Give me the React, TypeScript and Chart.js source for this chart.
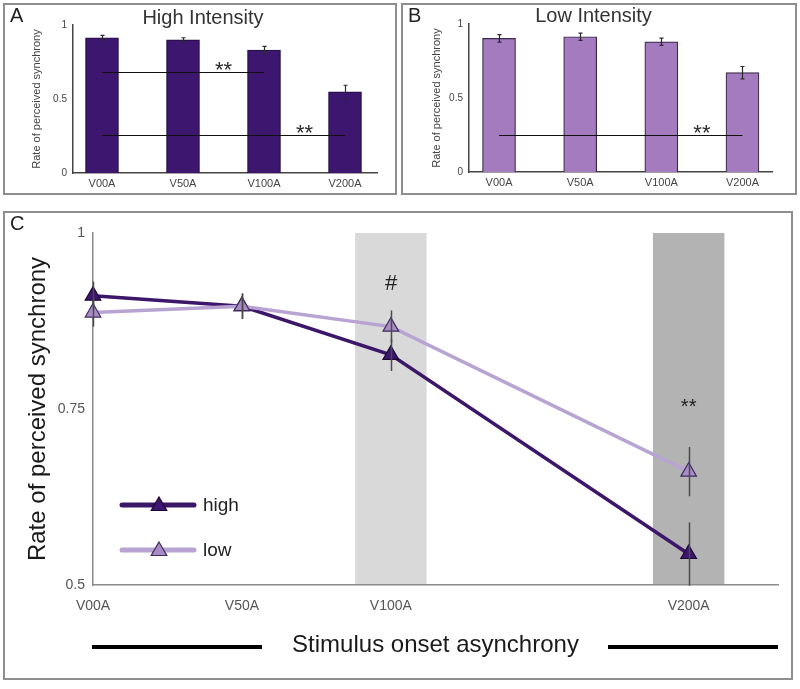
import React, { useEffect, useRef } from "react";
import { Chart, registerables } from "chart.js";

Chart.register(...registerables);

const FONT = "'Liberation Sans', Arial, Helvetica, sans-serif";
Chart.defaults.font.family = FONT;

// ---------------- data: bar panels ----------------
const barCategories = ["V00A", "V50A", "V100A", "V200A"];
const highBarValues = [0.914, 0.899, 0.831, 0.548];
const highBarErrors = [0.016, 0.015, 0.025, 0.045];
const lowBarValues = [0.903, 0.914, 0.88, 0.671];
const lowBarErrors = [0.025, 0.025, 0.025, 0.042];
const barYTicks = [0, 0.5, 1];
const barYTickLabels = ["0", "0.5", "1"];

const highSigFrom = [0, 0];
const highSigTo = [2, 3];
const highSigLevel = [0.68, 0.257];
const highSigStarAt = [1.5, 2.5];
const highSigText = ["**", "**"];

const lowSigFrom = [0];
const lowSigTo = [3];
const lowSigLevel = [0.25];
const lowSigStarAt = [2.5];
const lowSigText = ["**"];

// ---------------- data: line panel ----------------
const lineCategories = ["V00A", "V50A", "V100A", "V200A"];
const asynchronyMs = [0, 50, 100, 200];
const highLineValues = [0.911, 0.896, 0.827, 0.544];
const highLineErrors = [0.02, 0.018, 0.023, 0.045];
const lowLineValues = [0.887, 0.896, 0.867, 0.661];
const lowLineErrors = [0.02, 0.018, 0.023, 0.035];
const lineYTicks = [0.5, 0.75, 1];
const lineYTickLabels = ["0.5", "0.75", "1"];
const bandFrom = [88, 188];
const bandTo = [112, 212];
const bandMarks = ["#", "**"];
const bandMarkLevel = [0.93, 0.761];
const seriesNames = ["high", "low"];

// ---------------- styles ----------------
const HIGH = "#3d1670";
const LOW_BAR = "#a57bbf";
const HIGH_LINE = "#3c1769";
const LOW_LINE = "#b8a3d3";
const LOW_POINT = "#a88cc6";
const BAND_COLORS = ["#d9d9d9", "#b3b3b3"];

function drawTriangle(ctx: CanvasRenderingContext2D, x: number, y: number, r: number, fill: string, stroke: string) {
  ctx.beginPath();
  for (let k = 0; k < 3; k++) {
    const a = (k * 2 * Math.PI) / 3;
    const px = x + Math.sin(a) * r;
    const py = y - Math.cos(a) * r;
    if (k === 0) ctx.moveTo(px, py);
    else ctx.lineTo(px, py);
  }
  ctx.closePath();
  ctx.fillStyle = fill;
  ctx.fill();
  ctx.lineWidth = 1.2;
  ctx.strokeStyle = stroke;
  ctx.stroke();
}

type BarParams = {
  values: number[];
  errors: number[];
  fill: string;
  edge: string;
  title: string;
  letter: string;
  sigFrom: number[];
  sigTo: number[];
  sigLevel: number[];
  sigStarAt: number[];
  sigText: string[];
  xMin: number;
  xMax: number;
  padLeft: number;
  padRight: number;
  yWidth: number;
  yTitlePad: number;
  titlePadTop: number;
  titlePadBottom: number;
  xHeight: number;
};

function makeBarConfig(p: BarParams): any {
  const annot = {
    id: "annot" + p.letter,
    afterDatasetsDraw(chart: any) {
      const { ctx } = chart;
      const x = chart.scales.x;
      const y = chart.scales.y;
      ctx.save();
      // error bars
      ctx.strokeStyle = "#2a2a2a";
      ctx.lineWidth = 1.2;
      p.values.forEach((v, i) => {
        const px = Math.round(x.getPixelForValue(i)) + 0.5;
        const t = y.getPixelForValue(v + p.errors[i]);
        const b = y.getPixelForValue(v - p.errors[i]);
        ctx.beginPath();
        ctx.moveTo(px, t);
        ctx.lineTo(px, b);
        ctx.moveTo(px - 2, t);
        ctx.lineTo(px + 2, t);
        ctx.moveTo(px - 2, b);
        ctx.lineTo(px + 2, b);
        ctx.stroke();
      });
      // significance lines
      p.sigFrom.forEach((f, k) => {
        const py = Math.round(y.getPixelForValue(p.sigLevel[k])) + 0.5;
        ctx.strokeStyle = "#111";
        ctx.lineWidth = 1.2;
        ctx.beginPath();
        ctx.moveTo(x.getPixelForValue(f), py);
        ctx.lineTo(x.getPixelForValue(p.sigTo[k]), py);
        ctx.stroke();
        ctx.font = `22px ${FONT}`;
        ctx.fillStyle = "#2a2a2a";
        ctx.textAlign = "center";
        ctx.textBaseline = "alphabetic";
        ctx.fillText(p.sigText[k], x.getPixelForValue(p.sigStarAt[k]), py - 9 + 13);
      });
      // panel letter
      ctx.font = `20px ${FONT}`;
      ctx.fillStyle = "#222";
      ctx.textAlign = "left";
      ctx.textBaseline = "alphabetic";
      ctx.fillText(p.letter, 7, 19);
      ctx.restore();
    },
  };

  return {
    type: "bar",
    data: {
      datasets: [
        {
          data: p.values.map((v, i) => ({ x: i, y: v })),
          backgroundColor: p.fill,
          borderColor: p.edge,
          borderWidth: 1.2,
          barThickness: 33,
        },
      ],
    },
    options: {
      animation: false,
      responsive: false,
      events: [],
      layout: { padding: { left: p.padLeft, right: p.padRight, top: 0, bottom: 0 } },
      plugins: {
        legend: { display: false },
        tooltip: { enabled: false },
        title: {
          display: true,
          text: p.title,
          color: "#333",
          font: { family: FONT, size: 20, weight: "normal", lineHeight: 0.9 },
          padding: { top: p.titlePadTop, bottom: p.titlePadBottom },
        },
      },
      scales: {
        x: {
          type: "linear",
          offset: false,
          min: p.xMin,
          max: p.xMax,
          grid: { display: false, drawTicks: false, offset: false },
          border: { display: true, color: "#444", width: 1.5 },
          afterBuildTicks: (s: any) => {
            s.ticks = barCategories.map((_, i) => ({ value: i }));
          },
          ticks: {
            callback: (v: any) => barCategories[Number(v)],
            font: { family: FONT, size: 11 },
            color: "#444",
            padding: 4,
            maxRotation: 0,
            autoSkip: false,
          },
          afterFit: (s: any) => {
            s.height = p.xHeight;
          },
        },
        y: {
          min: 0,
          max: 1,
          grid: { display: false, drawTicks: false },
          border: { display: true, color: "#444", width: 1.5 },
          afterBuildTicks: (s: any) => {
            s.ticks = barYTicks.map((v) => ({ value: v }));
          },
          ticks: {
            callback: (v: any) => barYTickLabels[barYTicks.indexOf(Number(v))],
            font: { family: FONT, size: 10 },
            color: "#444",
            padding: 6,
          },
          title: {
            display: true,
            text: "Rate of perceived synchrony",
            color: "#444",
            font: { family: FONT, size: 11 },
            padding: { top: p.yTitlePad, bottom: 0 },
          },
          afterFit: (s: any) => {
            s.width = p.yWidth;
          },
        },
      },
    },
    plugins: [annot],
  };
}

function makeLineConfig(): any {
  const errs = [highLineErrors, lowLineErrors];
  const vals = [highLineValues, lowLineValues];
  const lineColors = [HIGH_LINE, LOW_LINE];
  const pointFills = [HIGH, LOW_POINT];
  const pointEdges = ["#1c0833", "#3f2b5c"];

  const annot = {
    id: "annotC",
    beforeDatasetsDraw(chart: any) {
      const { ctx } = chart;
      const x = chart.scales.x;
      const y = chart.scales.y;
      ctx.save();
      bandFrom.forEach((f, k) => {
        const x0 = x.getPixelForValue(f);
        const x1 = x.getPixelForValue(bandTo[k]);
        const y0 = y.getPixelForValue(1);
        const y1 = y.getPixelForValue(0.5) - 1;
        ctx.fillStyle = BAND_COLORS[k];
        ctx.fillRect(x0, y0, x1 - x0, y1 - y0);
      });
      ctx.restore();
    },
    afterDatasetsDraw(chart: any) {
      const { ctx } = chart;
      const x = chart.scales.x;
      const y = chart.scales.y;
      ctx.save();
      // error bars
      ctx.strokeStyle = "#4a4a4a";
      ctx.lineWidth = 1.5;
      vals.forEach((series, s) => {
        series.forEach((v, i) => {
          const px = Math.round(x.getPixelForValue(asynchronyMs[i])) + 0.5;
          ctx.beginPath();
          ctx.moveTo(px, y.getPixelForValue(v + errs[s][i]));
          ctx.lineTo(px, y.getPixelForValue(v - errs[s][i]));
          ctx.stroke();
        });
      });
      // band marks
      ctx.fillStyle = "#222";
      ctx.textAlign = "center";
      ctx.textBaseline = "alphabetic";
      bandMarks.forEach((m, k) => {
        const cx = x.getPixelForValue((bandFrom[k] + bandTo[k]) / 2);
        const cy = y.getPixelForValue(bandMarkLevel[k]);
        if (m === "#") {
          ctx.font = `italic 22px ${FONT}`;
          ctx.fillText(m, cx, cy + 8);
        } else {
          ctx.font = `20px ${FONT}`;
          ctx.fillText(m, cx, cy + 12);
        }
      });
      // legend
      seriesNames.forEach((name, s) => {
        const ly = 294 + s * 45;
        ctx.strokeStyle = lineColors[s];
        ctx.lineWidth = 5;
        ctx.lineCap = "round";
        ctx.beginPath();
        ctx.moveTo(119, ly);
        ctx.lineTo(191, ly);
        ctx.stroke();
        drawTriangle(ctx, 156, ly + 1, 9, pointFills[s], pointEdges[s]);
        ctx.font = `19px ${FONT}`;
        ctx.fillStyle = "#222";
        ctx.textAlign = "left";
        ctx.textBaseline = "middle";
        ctx.fillText(name, 200, ly + 1);
      });
      // decorative lines beside the axis title
      ctx.strokeStyle = "#000";
      ctx.lineWidth = 4;
      ctx.lineCap = "butt";
      ctx.beginPath();
      ctx.moveTo(89, 436);
      ctx.lineTo(259, 436);
      ctx.moveTo(605, 436);
      ctx.lineTo(775, 436);
      ctx.stroke();
      // panel letter
      ctx.font = `20px ${FONT}`;
      ctx.fillStyle = "#222";
      ctx.textAlign = "left";
      ctx.textBaseline = "alphabetic";
      ctx.fillText("C", 7, 19);
      ctx.restore();
    },
  };

  return {
    type: "line",
    data: {
      datasets: seriesNames.map((name, s) => ({
        label: name,
        data: asynchronyMs.map((ms, i) => ({ x: ms, y: vals[s][i] })),
        borderColor: lineColors[s],
        backgroundColor: lineColors[s],
        borderWidth: 3.5,
        pointStyle: "triangle",
        pointRadius: 9,
        pointBackgroundColor: pointFills[s],
        pointBorderColor: pointEdges[s],
        pointBorderWidth: 1.2,
        clip: false,
        order: s === 0 ? 2 : 1,
      })),
    },
    options: {
      animation: false,
      responsive: false,
      events: [],
      layout: { padding: { left: 0, right: 15, top: 22, bottom: 0 } },
      plugins: {
        legend: { display: false },
        tooltip: { enabled: false },
        title: { display: false },
      },
      scales: {
        x: {
          type: "linear",
          min: 0,
          max: 230,
          grid: { display: false, drawTicks: false },
          border: { display: true, color: "#8a8a8a", width: 1.5 },
          afterBuildTicks: (s: any) => {
            s.ticks = asynchronyMs.map((v) => ({ value: v }));
          },
          ticks: {
            callback: (v: any) => lineCategories[asynchronyMs.indexOf(Number(v))],
            font: { family: FONT, size: 14 },
            color: "#555",
            padding: 13,
            maxRotation: 0,
            autoSkip: false,
          },
          title: {
            display: true,
            text: "Stimulus onset asynchrony",
            color: "#1a1a1a",
            font: { family: FONT, size: 24 },
            padding: { top: 0, bottom: 20 },
          },
          afterFit: (s: any) => {
            s.height = 95;
          },
        },
        y: {
          min: 0.5,
          max: 1,
          grid: { display: false, drawTicks: false },
          border: { display: true, color: "#8a8a8a", width: 1.5 },
          afterBuildTicks: (s: any) => {
            s.ticks = lineYTicks.map((v) => ({ value: v }));
          },
          ticks: {
            callback: (v: any) => lineYTickLabels[lineYTicks.indexOf(Number(v))],
            font: { family: FONT, size: 14 },
            color: "#555",
            padding: 8,
          },
          title: {
            display: true,
            text: "Rate of perceived synchrony",
            color: "#1a1a1a",
            font: { family: FONT, size: 24 },
            padding: { top: 21, bottom: 0 },
          },
          afterFit: (s: any) => {
            s.width = 90;
          },
        },
      },
    },
    plugins: [annot],
  };
}

function Panel({ left, top, width, height, make }: { left: number; top: number; width: number; height: number; make: () => any }) {
  const ref = useRef<HTMLCanvasElement>(null);
  useEffect(() => {
    const chart = new Chart(ref.current as HTMLCanvasElement, make());
    return () => chart.destroy();
  }, []);
  return (
    <>
      <div
        style={{
          position: "absolute",
          left,
          top,
          width,
          height,
          border: "2px solid #8e8e8e",
          boxSizing: "border-box",
        }}
      />
      <canvas
        ref={ref}
        width={width}
        height={height}
        style={{ position: "absolute", left, top, width, height }}
      />
    </>
  );
}

const makeHigh = () =>
  makeBarConfig({
    values: highBarValues,
    errors: highBarErrors,
    fill: HIGH,
    edge: "#241040",
    title: "High Intensity",
    letter: "A",
    sigFrom: highSigFrom,
    sigTo: highSigTo,
    sigLevel: highSigLevel,
    sigStarAt: highSigStarAt,
    sigText: highSigText,
    xMin: -0.358,
    xMax: 3.395,
    padLeft: 26,
    padRight: 20,
    yWidth: 44,
    yTitlePad: 1,
    titlePadTop: 6,
    titlePadBottom: -2,
    xHeight: 22,
  });

const makeLow = () =>
  makeBarConfig({
    values: lowBarValues,
    errors: lowBarErrors,
    fill: LOW_BAR,
    edge: "#3a2a4a",
    title: "Low Intensity",
    letter: "B",
    sigFrom: lowSigFrom,
    sigTo: lowSigTo,
    sigLevel: lowSigLevel,
    sigStarAt: lowSigStarAt,
    sigText: lowSigText,
    xMin: -0.37,
    xMax: 3.364,
    padLeft: 14,
    padRight: 25,
    yWidth: 54,
    yTitlePad: 15,
    titlePadTop: 4,
    titlePadBottom: -1,
    xHeight: 23,
  });

export default function App() {
  return (
    <div
      style={{
        position: "fixed",
        left: 0,
        top: 0,
        width: 800,
        height: 689,
        background: "#fff",
        overflow: "hidden",
      }}
    >
      <Panel left={3} top={3} width={394} height={192} make={makeHigh} />
      <Panel left={401} top={3} width={396} height={192} make={makeLow} />
      <Panel left={3} top={211} width={790} height={469} make={makeLineConfig} />
    </div>
  );
}
